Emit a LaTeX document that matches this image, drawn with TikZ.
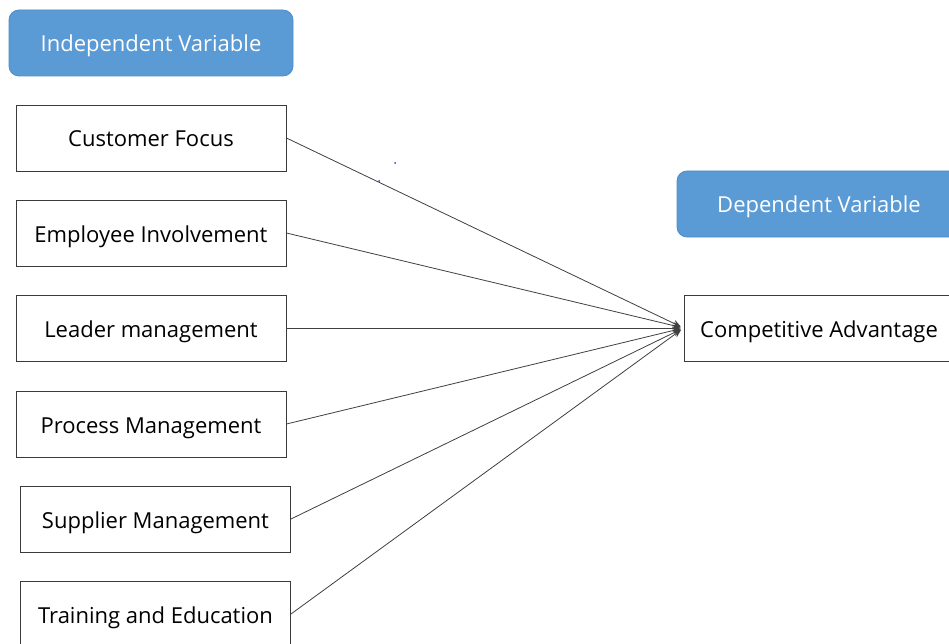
\documentclass[tikz,border=0pt]{standalone}
\usepackage{fontspec}
\setmainfont{Open Sans}
\usetikzlibrary{arrows.meta}
\definecolor{hdrfill}{HTML}{5B9BD5}
\definecolor{hdrdraw}{HTML}{4F8CC6}
\definecolor{boxdraw}{HTML}{3A3A3A}
\definecolor{linecol}{HTML}{404040}
\definecolor{dotcol}{HTML}{3A3AE0}
\tikzset{
  hdr/.style={draw=hdrdraw, fill=hdrfill, rounded corners=10pt, line width=0.8pt,
    minimum width=284pt, minimum height=66pt, text=white, font=\fontsize{22}{26}\selectfont,
    inner sep=0pt, text height=19pt, text depth=2pt},
  varbox/.style={draw=boxdraw, fill=white, line width=0.9pt, minimum width=270pt,
    minimum height=66pt, font=\fontsize{22}{26}\selectfont, inner sep=0pt,
    text height=20pt, text depth=2pt},
  conn/.style={draw=linecol, line width=0.8pt, -{Stealth[length=8pt,width=7pt]}, shorten >=3pt}
}
\begin{document}
\begin{tikzpicture}[x=1pt,y=-1pt]
\useasboundingbox (0,0) rectangle (949,644);
\clip (0,0) rectangle (949,644);
\fill[white] (0,0) rectangle (949,644);
\node[hdr] (iv) at (151,43) {Independent Variable};
\node[hdr] (dv) at (819,204) {Dependent Variable};
\node[varbox] (cf) at (151,138) {Customer Focus};
\node[varbox] (ei) at (151,233) {Employee Involvement};
\node[varbox] (lm) at (151,328) {Leader management};
\node[varbox] (pm) at (151,424) {Process Management};
\node[varbox] (sm) at (155.5,519) {Supplier Management};
\node[varbox] (te) at (155.5,614) {Training and Education};
\node[varbox] (ca) at (819,328) {Competitive Advantage};
\foreach \s in {cf,ei,lm,pm,sm,te}{
  \draw[conn] (\s.east) -- (ca.west);
}
\fill[dotcol] (395,163) circle (1pt);
\fill[dotcol] (379,181) circle (1pt);
\end{tikzpicture}
\end{document}
